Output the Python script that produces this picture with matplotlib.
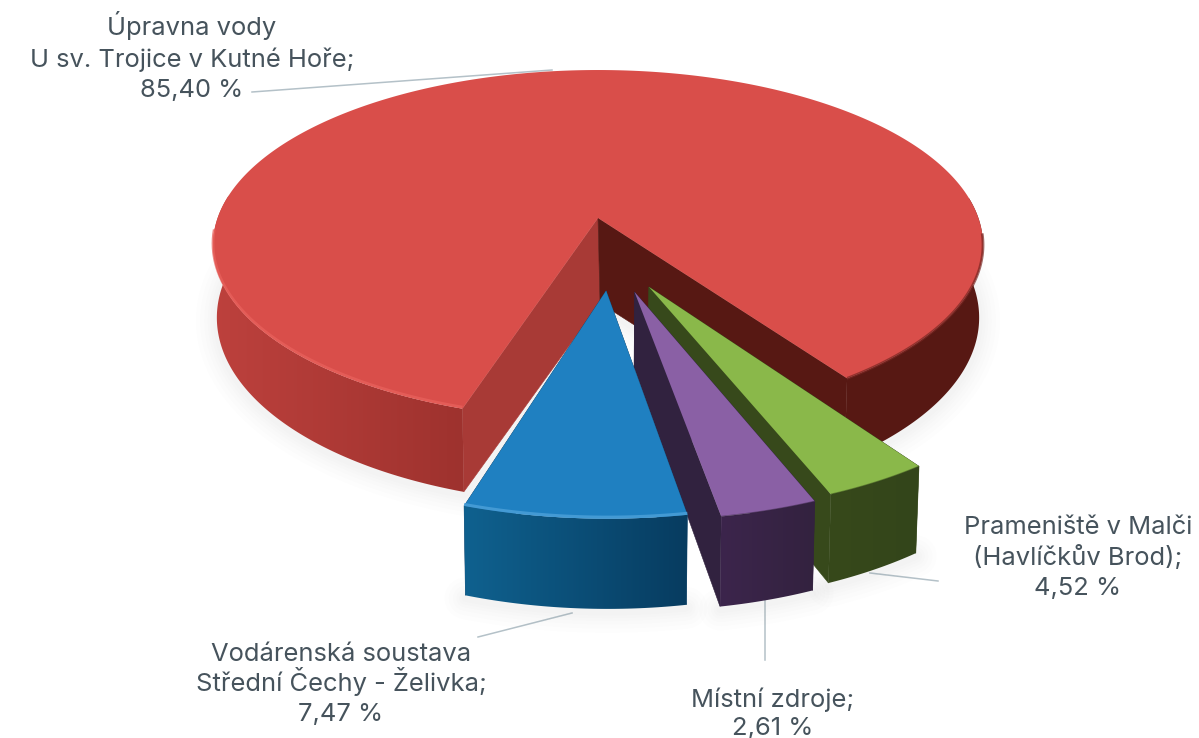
import numpy as np
import matplotlib
matplotlib.use('Agg')
import matplotlib.pyplot as plt
from matplotlib.colors import LinearSegmentedColormap
from matplotlib.patches import Polygon

# slices as they are drawn, red first, going clockwise from the left cut
names = [['Úpravna vody', 'U sv. Trojice v Kutné Hoře;', '85,40 %'],
         ['Vodárenská soustava', 'Střední Čechy - Želivka;', '7,47 %'],
         ['Místní zdroje;', '2,61 %'],
         ['Prameniště v Malči', '(Havlíčkův Brod);', '4,52 %']]
shares = [85.39, 7.6, 3.34, 3.67]  # angular size seen in the picture
top_colors = ['#d94e4a', '#1f80c1', '#8a60a5', '#8ab84a']
cut_colors = ['#a83a36', '#14466e', '#31223f', '#37491b']
side_left = ['#bd413d', '#0f618f', '#3c254c', '#37491b']
side_right = ['#9e322e', '#073c60', '#33223f', '#33451a']

explode = [(0, 0), (0.02, 0.40), (0.09, 0.406), (0.126, 0.38)]
start = -17.7 - 85.39 * 3.6  # red begins here, blue starts at -17.7 deg

cx, ry0, a, k, rx = 598, 218, 137.2, -0.154, 380.4
depth = 71
radius = [1.0, 0.985, 0.985, 0.985]

label_x = [192, 341, 773, 1078]
label_y = [[35, 67, 97], [661, 691, 721], [707, 735], [534, 565, 595]]


def project(x, y, low=False):
    w = 1 + k * y
    X = rx * x / w
    Y = (a * y + ry0) / w
    if low:
        return cx + X * 0.99, Y + depth / w
    return cx + X, Y


def rim(p0, p1, off, r):
    t = np.radians(np.linspace(p0, p1, max(int(abs(p1 - p0) * 2), 30)))
    return r * np.sin(t) + off[0], r * np.cos(t) + off[1]


def wall(p0, p1, off, r):
    x, y = rim(p0, p1, off, r)
    Xt, Yt = project(x, y)
    Xl, Yl = project(x, y, low=True)
    return np.r_[Xt, Xl[::-1]], np.r_[Yt, Yl[::-1]]


def gradient_wall(X, Y, c0, c1, z):
    # horizontal colour run, clipped to the wall outline
    cmap = LinearSegmentedColormap.from_list('w', [c0, c1])
    im = ax.imshow(np.linspace(0, 1, 256)[None, :], cmap=cmap, aspect='auto', interpolation='bilinear',
                   extent=(X.min(), X.max(), Y.max(), Y.min()), zorder=z)
    im.set_clip_path(Polygon(np.c_[X, Y], closed=True, transform=ax.transData))


fig = plt.figure(figsize=(11.99, 7.38), dpi=100)
ax = fig.add_axes([0, 0, 1, 1])

# bounds of each slice
edges = [start]
for s in shares:
    edges.append(edges[-1] + s * 3.6)
edges = np.array(edges)

# leader lines
line_c = '#b4c1c8'
ax.plot([252, 552], [92, 70], color=line_c, lw=1.1, zorder=1)
ax.plot([478, 572], [637, 613], color=line_c, lw=1.1, zorder=1)
ax.plot([765, 765], [600, 660], color=line_c, lw=1.1, zorder=1)
ax.plot([870, 938], [573, 581], color=line_c, lw=1.1, zorder=1)

# soft shadow under the bottom outlines
for i in range(4):
    p0, p1 = edges[i], edges[i + 1]
    x, y = rim(p0, p1, explode[i], radius[i])
    X, Y = project(x, y, low=True)
    if i == 0:
        X, Y = np.append(X, 600), np.append(Y, 303)
    for lw in [30, 24, 18, 13, 9, 5]:
        ax.fill(X, Y + 3, facecolor='none', edgecolor='#8a8f92', lw=lw, alpha=0.016,
                joinstyle='round', zorder=2)

# slices, back to front
for n, i in enumerate([0, 3, 2, 1]):
    z = 3 + n * 3
    p0, p1 = edges[i], edges[i + 1]
    off, r = explode[i], radius[i]
    ax_x, ax_y = project(off[0], off[1])
    low_x, low_y = project(off[0], off[1], low=True)
    if i == 0:
        low_x, low_y = 600, 303

    # faces along the two cuts
    for ang in ([p1, p0] if i == 0 else [p0, p1]):
        x, y = rim(ang, ang, off, r)
        x, y = x[0], y[0]
        Xa, Ya = project(x, y)
        Xb, Yb = project(x, y, low=True)
        if i == 0:
            col = cut_colors[0] if abs(ang - p1) < 1e-6 else '#571813'
        else:
            col = cut_colors[i]
        ax.fill([ax_x, Xa, Xb, low_x], [ax_y, Ya, Yb, low_y], color=col, lw=0.4, zorder=z)

    # outer wall
    if i == 0:
        X, Y = wall(p1 - 80, p1, off, r)
        gradient_wall(X, Y, side_left[0], side_right[0], z + 1)
        X, Y = wall(p0, p0 + 62, off, r)
        ax.fill(X, Y, color='#571813', lw=0, zorder=z + 1)
    else:
        X, Y = wall(p0, p1, off, r)
        gradient_wall(X, Y, side_left[i], side_right[i], z + 1)

    # top face
    x, y = rim(p0, p1, off, r)
    Xt, Yt = project(x, y)
    ax.fill(np.r_[ax_x, Xt], np.r_[ax_y, Yt], color=top_colors[i], lw=0, zorder=z + 2)

    # bright lip on the lit part of the rim
    if i == 0:
        x, y = rim(p1 - 68, p1, off, r)
        Xr, Yr = project(x, y)
        ax.plot(Xr, Yr - 1.5, color='#e8615c', lw=2, alpha=0.75, zorder=z + 2, solid_capstyle='butt')
        x, y = rim(p0, p0 + 50, off, r)
        Xr, Yr = project(x, y)
        ax.plot(Xr, Yr, color='#7a2622', lw=2, alpha=0.7, zorder=z + 2, solid_capstyle='butt')
    elif i == 1:
        ax.plot(Xt, Yt - 1.5, color='#4a9fd8', lw=2.2, alpha=0.85, zorder=z + 2, solid_capstyle='butt')
    else:
        ax.plot(Xt, Yt, color=side_right[i], lw=1, alpha=0.5, zorder=z + 2, solid_capstyle='butt')

# texts, one line at a time so that the accents do not change the spacing
for lines, tx, ys in zip(names, label_x, label_y):
    for line, ty in zip(lines, ys):
        ax.text(tx, ty, line, family='Inter', fontsize=18.4, color='#46535c', ha='center', va='baseline', zorder=20)

ax.set_xlim(0, 1199)
ax.set_ylim(738, 0)
ax.axis('off')

fig.savefig('out.png', dpi=100, facecolor='white')
